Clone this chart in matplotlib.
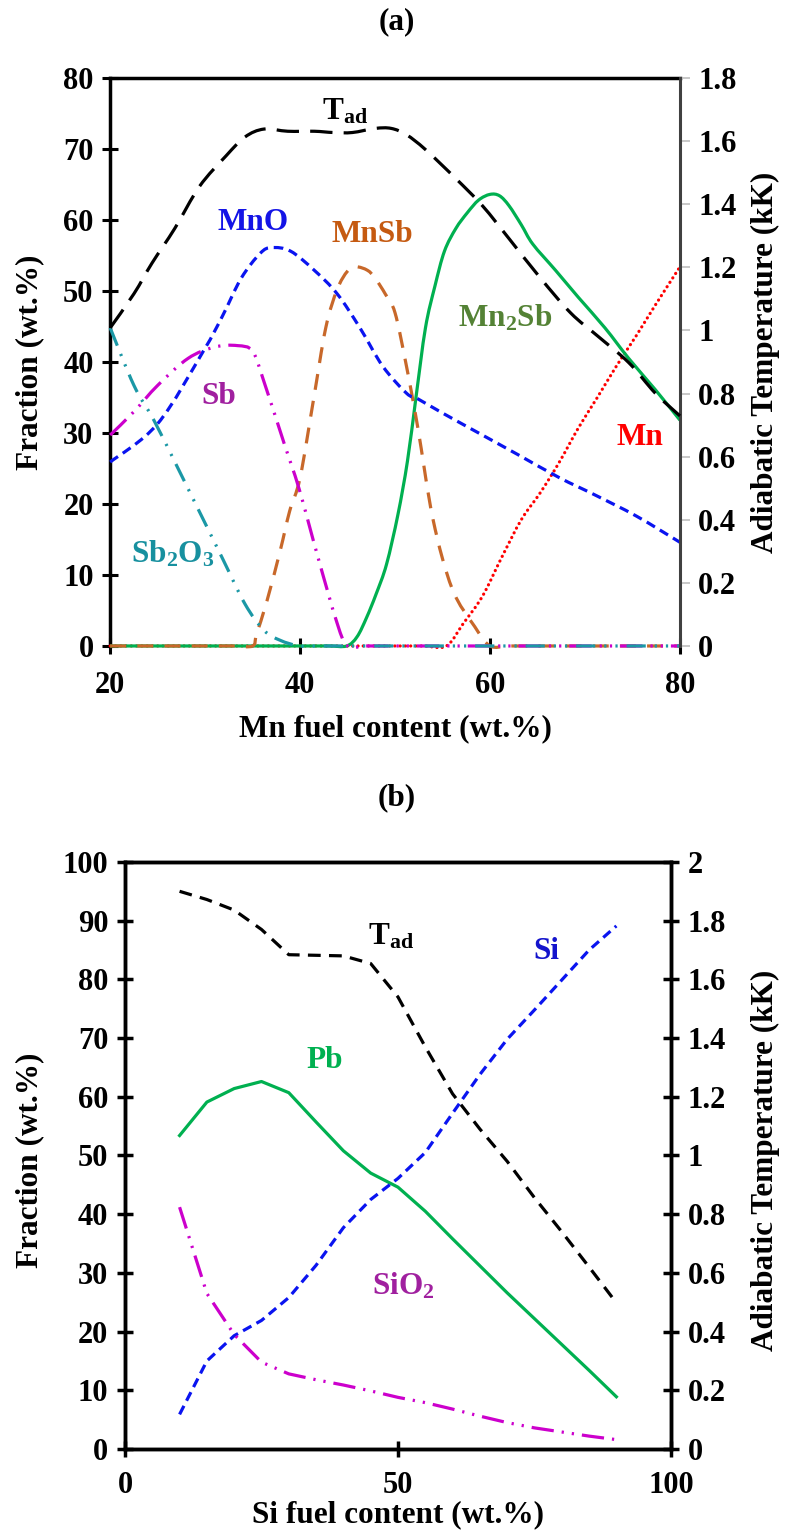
import numpy as np
import matplotlib
matplotlib.use("Agg")
import matplotlib.pyplot as plt
from matplotlib.path import Path
from matplotlib.patches import PathPatch

plt.rcParams['font.family'] = ['Liberation Serif', 'DejaVu Serif']
plt.rcParams['font.weight'] = 'bold'
plt.rcParams['mathtext.fontset'] = 'custom'
plt.rcParams['mathtext.rm'] = 'Liberation Serif:bold'
plt.rcParams['mathtext.bf'] = 'Liberation Serif:bold'
plt.rcParams['mathtext.it'] = 'Liberation Serif:bold'

# ---------------------------------------------------------------------------
# (a) Mn fuel series, fractions in wt.% and Tad in kK
mn_x_tad = [20, 22.5, 24.4, 26.8, 29.4, 32.2, 34.2, 36.2, 38.7, 41.5, 43.5, 45.5,
            47.9, 49.6, 51.2, 53.2, 56.4, 59.2, 62.1, 65.3, 68.5, 71.3, 74.6, 77.4, 80]
mn_tad = [1.008, 1.116, 1.213, 1.323, 1.456, 1.553, 1.613, 1.638, 1.631, 1.631, 1.627, 1.627,
          1.640, 1.640, 1.620, 1.573, 1.481, 1.395, 1.287, 1.166, 1.055, 0.983, 0.898, 0.801, 0.729]

mno_x = [20, 25, 29.8, 31.8, 33.8, 35.8, 37, 39, 41.5, 43.9, 46.3, 48.7, 51.2, 52.4,
         55, 59.2, 63, 67.3, 71, 75.4, 80]
mno_y = [25.9, 31.3, 41.5, 46.4, 51.8, 55.3, 56.1, 55.6, 52.9, 49.6, 44.8, 39.4, 35.6, 34.8,
         32.8, 29.7, 26.9, 23.7, 21.3, 18.3, 14.6]

mnsb_x = [20, 25, 30, 33, 35, 35.4, 36.5, 37.9, 38.9, 40, 41.4, 42.7, 43.9, 45, 45.9, 47.1,
          47.9, 49, 50, 51.2, 52.4, 54, 56, 58.4, 60, 62, 65, 70, 75, 80]
mnsb_y = [0, 0, 0, 0, 0, 1.6, 6.3, 13.4, 19.0, 23.7, 34.6, 44.8, 50.2, 52.8, 53.4, 52.9,
          51.8, 49.5, 46.9, 39.4, 30.7, 17.8, 8.1, 2.7, 0, 0, 0, 0, 0, 0]

mn2sb_x = [20, 25, 30, 35, 40, 43, 44.9, 46, 47, 48, 49.1, 50.3, 51.3, 52.2, 53.2,
           54.2, 55.2, 56.4, 57.6, 58.8, 60, 61, 62, 63.3, 64.5, 66.9, 69.3, 72.1, 74.6,
           77.4, 80]
mn2sb_y = [0, 0, 0, 0, 0, 0, 0, 1.3, 4.0, 7.3, 11.5, 18.5, 26.0, 35.0, 44.8,
           50.7, 55.6, 58.8, 61.0, 62.8, 63.6, 63.4, 62.0, 59.3, 56.6, 52.9, 49.1, 44.8, 40.5,
           36.1, 31.8]

sb_x = [20, 22.5, 25, 28.2, 31, 33.4, 35, 36.2, 38.3, 39.9, 41.9, 43.9, 45, 47, 50,
        55, 60, 65, 70, 75, 80]
sb_y = [29.7, 33.0, 36.7, 40.5, 42.1, 42.3, 41.5, 37.2, 28.6, 22.1, 12.4, 3.2, 0, 0, 0,
        0, 0, 0, 0, 0, 0]

sb2o3_x = [20, 22.5, 24.6, 27, 29.4, 31.8, 34.2, 36.2, 37.9, 39.9, 42, 45, 50, 55, 60,
           65, 70, 75, 80]
sb2o3_y = [44.8, 36.7, 31.8, 25.4, 18.9, 12.4, 5.9, 2.2, 0.8, 0, 0, 0, 0, 0, 0,
           0, 0, 0, 0]

mn_x = [20, 25, 30, 35, 40, 45, 50, 53, 55.4, 57.2, 59.2, 61.2, 63.3, 65.3, 67.3, 69.3,
        71.3, 73.3, 75.4, 77.4, 80]
mn_y = [0, 0, 0, 0, 0, 0, 0, 0, 0, 3.2, 7.0, 12.4, 17.8, 21.6, 25.9, 30.7,
        35.0, 39.4, 43.7, 48.0, 53.4]

# ---------------------------------------------------------------------------
# (b) Si fuel series
si_x = [10, 15, 20, 25, 30, 35, 40, 45, 50, 55, 60, 65, 70, 75, 80, 85, 90]
si_tad = [1.90, 1.872, 1.836, 1.77, 1.684, 1.682, 1.68, 1.654, 1.54, 1.37, 1.21,
          1.09, 0.98, 0.856, 0.74, 0.62, 0.498]
pb_y = [53.4, 59.1, 61.4, 62.6, 60.7, 55.7, 50.8, 47.0, 44.6, 40.5, 35.8, 31.2,
        26.6, 22.2, 17.8, 13.4, 8.9]
si_y = [5.9, 15.0, 19.3, 21.9, 25.8, 31.3, 37.7, 42.5, 46.1, 50.5, 57.2, 63.8,
        69.8, 74.8, 79.9, 85.0, 89.1]
sio2_y = [41.2, 26.5, 19.5, 14.8, 12.8, 11.8, 10.9, 9.9, 8.8, 7.9, 6.8, 5.6,
          4.5, 3.6, 2.9, 2.2, 1.6]

LW = 2.3
LABEL_FS = 22.5
TICK_FS = 22
NOTE_FS = 22.5


def smooth_line(ax, x, y, dashes=None, capstyle='butt', **kw):
    """Draw a smoothed (Catmull-Rom / Bezier) curve through the given points."""
    x = np.asarray(x, float)
    y = np.asarray(y, float)
    px = np.r_[x[0], x, x[-1]]
    py = np.r_[y[0], y, y[-1]]
    verts = [(x[0], y[0])]
    codes = [Path.MOVETO]
    for i in range(len(x) - 1):
        j = i + 1
        c1 = (px[j] + (px[j + 1] - px[j - 1]) / 6, py[j] + (py[j + 1] - py[j - 1]) / 6)
        c2 = (px[j + 1] - (px[j + 2] - px[j]) / 6, py[j + 1] - (py[j + 2] - py[j]) / 6)
        verts += [c1, c2, (x[i + 1], y[i + 1])]
        codes += [Path.CURVE4] * 3
    ls = (0, dashes) if dashes else '-'
    patch = PathPatch(Path(verts, codes), fill=False, linestyle=ls,
                      capstyle=capstyle, joinstyle='round', clip_on=False, zorder=3, **kw)
    ax.add_patch(patch)
    return patch


fig = plt.figure(figsize=(7.87, 15.34), dpi=100)

# ----------------------------- panel (a) ---------------------------------
ax1 = fig.add_axes([0.140, 0.5789, 0.724, 0.3703])
ax1r = ax1.twinx()

smooth_line(ax1, mn_x, mn_y, edgecolor='#ff0000', linewidth=LW,
            dashes=(0.05, 1.6), capstyle='round')
smooth_line(ax1, mn2sb_x, mn2sb_y, edgecolor='#00b050', linewidth=LW)
smooth_line(ax1, mnsb_x, mnsb_y, edgecolor='#c8682a', linewidth=LW, dashes=(5, 3.5))
smooth_line(ax1, mno_x, mno_y, edgecolor='#0a14f0', linewidth=LW, dashes=(3, 1.8))
smooth_line(ax1, sb_x, sb_y, edgecolor='#cc00cc', linewidth=LW,
            dashes=(7, 2.5, 0.7, 2.5, 0.7, 2.5))
smooth_line(ax1, sb2o3_x, sb2o3_y, edgecolor='#1b98a6', linewidth=LW,
            dashes=(6, 2.8, 0.7, 2.8, 0.7, 2.8))
smooth_line(ax1r, mn_x_tad, mn_tad, edgecolor='black', linewidth=LW, dashes=(7, 3.5))

ax1.set_xlim(20, 80)
ax1.set_ylim(0, 80)
ax1r.set_ylim(0, 1.8)
ax1.set_xticks([20, 40, 60, 80])
ax1.set_yticks(range(0, 81, 10))
ax1r.set_yticks(np.arange(0, 1.81, 0.2))
ax1r.set_yticklabels(['0', '0.2', '0.4', '0.6', '0.8', '1', '1.2', '1.4', '1.6', '1.8'])

for s in ['top', 'left']:
    ax1.spines[s].set_linewidth(2.5)
ax1.spines['bottom'].set_visible(False)
ax1.spines['right'].set_visible(False)
ax1r.spines['right'].set_color('#404040')
ax1r.spines['right'].set_linewidth(2.2)
for s in ['top', 'left', 'bottom']:
    ax1r.spines[s].set_visible(False)

ax1.tick_params(axis='both', direction='inout', length=12, width=2.2,
                labelsize=TICK_FS, pad=6)
ax1.tick_params(axis='x', pad=12)
ax1r.tick_params(axis='y', direction='out', length=7, width=1.2,
                 color='#bfbfbf', labelsize=TICK_FS, pad=6)

ax1.set_xlabel('Mn fuel content (wt.%)', fontsize=LABEL_FS, fontweight='bold')
ax1.xaxis.set_label_coords(0.5, -0.12)

ax1.text(44.7, 75.3, r'T$_\mathrm{ad}$', fontsize=NOTE_FS, ha='center', va='center')
ax1.text(35.0, 59.6, 'MnO', color='#1414e6', fontsize=NOTE_FS, ha='center', va='center')
ax1.text(47.6, 58.0, 'MnSb', color='#c55a11', fontsize=NOTE_FS, ha='center', va='center')
ax1.text(61.6, 46.1, r'Mn$_\mathrm{2}$Sb', color='#548235', fontsize=NOTE_FS,
         ha='center', va='center')
ax1.text(31.4, 35.1, 'Sb', color='#a0209f', fontsize=NOTE_FS, ha='center', va='center')
ax1.text(26.6, 12.9, r'Sb$_\mathrm{2}$O$_\mathrm{3}$', color='#17909f', fontsize=NOTE_FS,
         ha='center', va='center')
ax1.text(75.8, 29.4, 'Mn', color='#ff0000', fontsize=NOTE_FS, ha='center', va='center')

# ----------------------------- panel (b) ---------------------------------
ax2 = fig.add_axes([0.1588, 0.0554, 0.6938, 0.3827])
ax2r = ax2.twinx()

ax2.plot(si_x, pb_y, color='#00b050', lw=LW)
ax2.plot(si_x, si_y, color='#0a14f0', lw=LW, dashes=(3, 1.8))
ax2.plot(si_x, sio2_y, color='#cc00cc', lw=LW,
         dashes=(7, 2.5, 0.7, 2.5, 0.7, 2.5))
ax2r.plot(si_x, si_tad, color='black', lw=LW, dashes=(4, 2.6))

ax2.set_xlim(0, 100)
ax2.set_ylim(0, 100)
ax2r.set_ylim(0, 2)
ax2.set_xticks([0, 50, 100])
ax2.set_yticks(range(0, 101, 10))
ax2r.set_yticks(np.arange(0, 2.01, 0.2))
ax2r.set_yticklabels(['0', '0.2', '0.4', '0.6', '0.8', '1', '1.2', '1.4', '1.6', '1.8', '2'])

for a in (ax2, ax2r):
    for s in a.spines.values():
        s.set_linewidth(2.5)
ax2.tick_params(axis='both', direction='inout', length=12, width=2.5,
                labelsize=TICK_FS, pad=6)
ax2.tick_params(axis='x', pad=10)
ax2r.tick_params(axis='y', direction='inout', length=12, width=2.5,
                 labelsize=TICK_FS, pad=6)

ax2.set_xlabel('Si fuel content (wt.%)', fontsize=LABEL_FS, fontweight='bold')
ax2.xaxis.set_label_coords(0.5, -0.088)

ax2.text(48.8, 87.3, r'T$_\mathrm{ad}$', fontsize=NOTE_FS, ha='center', va='center')
ax2.text(77.1, 84.8, 'Si', color='#1414cc', fontsize=NOTE_FS, ha='center', va='center')
ax2.text(36.6, 66.1, 'Pb', color='#00b050', fontsize=NOTE_FS, ha='center', va='center')
ax2.text(50.9, 27.8, r'SiO$_\mathrm{2}$', color='#a0209f', fontsize=NOTE_FS,
         ha='center', va='center')

# titles and y-axis captions
fig.text(0.504, 1 - 22 / 1534, '(a)', fontsize=LABEL_FS, ha='center', va='center')
fig.text(0.504, 1 - 798 / 1534, '(b)', fontsize=LABEL_FS, ha='center', va='center')
fig.text(0.038, 1 - 362 / 1534, 'Fraction (wt.%)', fontsize=LABEL_FS,
         rotation=90, ha='center', va='center')
fig.text(0.972, 1 - 362 / 1534, 'Adiabatic Temperature (kK)', fontsize=LABEL_FS,
         rotation=90, ha='center', va='center')
fig.text(0.038, 1 - 1160 / 1534, 'Fraction (wt.%)', fontsize=LABEL_FS,
         rotation=90, ha='center', va='center')
fig.text(0.972, 1 - 1160 / 1534, 'Adiabatic Temperature (kK)', fontsize=LABEL_FS,
         rotation=90, ha='center', va='center')

fig.savefig('out.png', dpi=100)
